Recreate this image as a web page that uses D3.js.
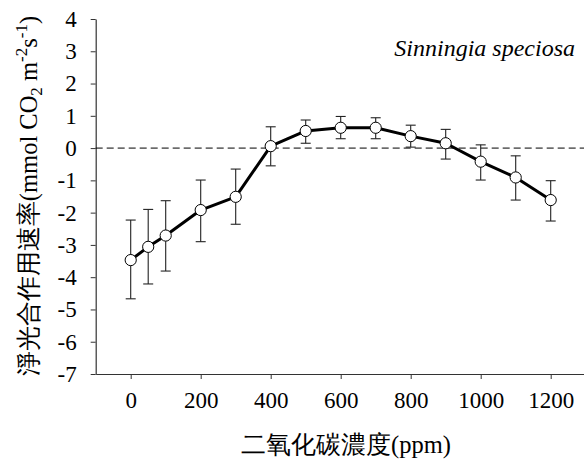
<!DOCTYPE html>
<html>
<head>
<meta charset="utf-8">
<script src="https://cdn.jsdelivr.net/npm/d3@7"></script>
<style>
  html, body { margin: 0; padding: 0; background: #fff; }
  svg { display: block; }
</style>
</head>
<body>
<svg id="chart" width="584" height="462"></svg>
<script>
// ---- data ----
const co2 = [0, 50, 100, 200, 300, 400, 500, 600, 700, 800, 900, 1000, 1100, 1200];
const netRate = [-3.47, -3.06, -2.71, -1.92, -1.51, 0.06, 0.53, 0.63, 0.63, 0.37, 0.15, -0.42, -0.91, -1.61];
const errHigh = [-2.23, -1.90, -1.63, -0.99, -0.65, 0.66, 0.87, 0.98, 0.94, 0.71, 0.58, 0.10, -0.24, -1.01];
const errLow  = [-4.67, -4.21, -3.81, -2.90, -2.36, -0.55, 0.15, 0.29, 0.29, 0.03, -0.34, -0.99, -1.61, -2.26];
const xTicks = [0, 200, 400, 600, 800, 1000, 1200];
const yTicks = [-7, -6, -5, -4, -3, -2, -1, 0, 1, 2, 3, 4];
const speciesLabel = "Sinningia speciosa";
const xTitle = "二氧化碳濃度(ppm)";

const rows = co2.map((c, i) => ({ c, v: netRate[i], hi: errHigh[i], lo: errLow[i] }));

const serif = "'Liberation Serif', 'Times New Roman', serif";

const svg = d3.select("#chart");
const x = d3.scaleLinear().domain([-100, 1300]).range([95.7, 585.7]);
const y = d3.scaleLinear().domain([-7, 4]).range([374, 19]);

const axisColor = "#333";
const fontSize = 23;

// x axis
const gx = svg.append("g").attr("transform", `translate(0,${y(-7)})`)
  .call(d3.axisBottom(x).tickValues(xTicks).tickSize(5).tickPadding(13).tickSizeOuter(0).tickFormat(d => String(d)));
gx.attr("font-family", serif).attr("font-size", fontSize);
gx.select(".domain").attr("stroke", axisColor).attr("stroke-width", 1.2);
gx.selectAll(".tick line").attr("stroke", axisColor);
gx.selectAll(".tick text").attr("fill", "#000");

// y axis
const gy = svg.append("g").attr("transform", `translate(${x(-100)},0)`)
  .call(d3.axisLeft(y).tickValues(yTicks).tickSize(5).tickPadding(14).tickSizeOuter(0).tickFormat(d => String(d)));
gy.attr("font-family", serif).attr("font-size", fontSize);
gy.select(".domain").attr("stroke", axisColor).attr("stroke-width", 1.2);
gy.selectAll(".tick line").attr("stroke", axisColor);
gy.selectAll(".tick text").attr("fill", "#000");

// zero reference line
svg.append("line")
  .attr("x1", x(-100)).attr("x2", x(1300))
  .attr("y1", y(0)).attr("y2", y(0))
  .attr("stroke", "#000").attr("stroke-width", 1)
  .attr("stroke-dasharray", "7,4");

// error bars
const eb = svg.append("g").attr("stroke", "#222").attr("stroke-width", 1.1);
const cap = 5;
rows.forEach(d => {
  eb.append("line").attr("x1", x(d.c)).attr("x2", x(d.c)).attr("y1", y(d.hi)).attr("y2", y(d.lo));
  eb.append("line").attr("x1", x(d.c) - cap).attr("x2", x(d.c) + cap).attr("y1", y(d.hi)).attr("y2", y(d.hi));
  eb.append("line").attr("x1", x(d.c) - cap).attr("x2", x(d.c) + cap).attr("y1", y(d.lo)).attr("y2", y(d.lo));
});

// line
svg.append("path").datum(rows)
  .attr("fill", "none").attr("stroke", "#000").attr("stroke-width", 3)
  .attr("stroke-linejoin", "round")
  .attr("d", d3.line().x(d => x(d.c)).y(d => y(d.v)));

// markers
svg.append("g").selectAll("circle").data(rows).join("circle")
  .attr("cx", d => x(d.c)).attr("cy", d => y(d.v)).attr("r", 5.6)
  .attr("fill", "#fff").attr("stroke", "#000").attr("stroke-width", 1);

// species label
svg.append("text")
  .attr("x", 575).attr("y", 56).attr("text-anchor", "end")
  .attr("font-family", serif)
  .attr("font-size", 24).attr("font-style", "italic")
  .text(speciesLabel);

// x title
svg.append("text")
  .attr("x", 346).attr("y", 453).attr("text-anchor", "middle")
  .attr("font-size", 24.5)
  .attr("font-family", serif)
  .text(xTitle);

// y title
const yt = svg.append("text")
  .attr("transform", "translate(37,196) rotate(-90)")
  .attr("text-anchor", "middle")
  .attr("font-size", 24.5)
  .attr("font-family", serif);
yt.append("tspan").text("淨光合作用速率(mmol CO");
yt.append("tspan").attr("font-size", 17).attr("dy", 5).text("2");
yt.append("tspan").attr("dy", -5).text(" m");
yt.append("tspan").attr("font-size", 17).attr("dy", -10).text("-2");
yt.append("tspan").attr("dy", 10).text("s");
yt.append("tspan").attr("font-size", 17).attr("dy", -10).text("-1");
yt.append("tspan").attr("dy", 10).text(")");
</script>
</body>
</html>
